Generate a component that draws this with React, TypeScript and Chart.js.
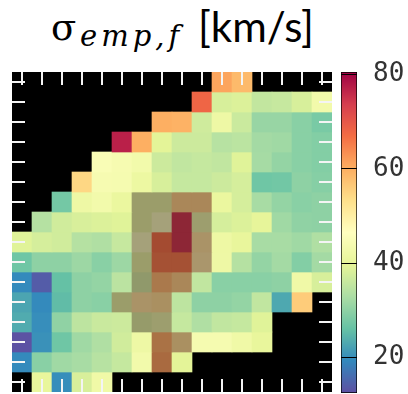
import React, { useEffect, useRef } from "react";
import { Chart, registerables } from "chart.js";

Chart.register(...registerables);

const N = null;

// column / row indices of the 16 x 16 spaxel map
const columnLabels = ["0", "1", "2", "3", "4", "5", "6", "7", "8", "9", "10", "11", "12", "13", "14", "15"];
const rowLabels = ["0", "1", "2", "3", "4", "5", "6", "7", "8", "9", "10", "11", "12", "13", "14", "15"];

// sigma_emp,f [km/s] per row (top to bottom), null = masked (black)
const row00 = [N, N, N, N, N, N, N, N, N, N, 61, 58.5, N, N, N, N];
const row01 = [N, N, N, N, N, N, N, N, N, 68, 38, 38.5, 35.5, 36, 38, 43];
const row02 = [N, N, N, N, N, N, N, 60, 59.5, 37, 42, 36.5, 31, 31, 29.5, 28];
const row03 = [N, N, N, N, N, 77, 60, 39.5, 36.7, 36.7, 34.3, 34.8, 32.2, 31.8, 29.5, 29];
const row04 = [N, N, N, N, 45, 44, 43, 36.7, 35.4, 35.9, 35.4, 39, 32.4, 30.6, 29.5, 29];
const row05 = [N, N, N, 54.5, 44, 43.8, 41.5, 38, 35.9, 35.9, 36.7, 37.7, 27, 27.3, 30, 29.3];
const row06 = [N, N, 27.5, 42, 43, 41, 40, 40, 55, 55, 41, 37.7, 32.6, 30.6, 29.5, 30];
const row07 = [N, 34, 37.2, 38.1, 38.5, 39, 40, 44, 74, 41, 37.7, 38.5, 40, 31.8, 30.2, 30];
const row08 = [39, 37.7, 37.2, 34, 33.5, 36, 44, 66, 74, 52, 41.8, 40.4, 32.6, 32.6, 31.8, 33.5];
const row09 = [27, 30, 30, 31.5, 29.5, 31.5, 40, 65, 65, 51, 42, 34, 30.6, 32.2, 29, 32.2];
const row10 = [19.5, 14, 26, 30, 30.6, 34.7, 38, 58, 55, 35.4, 29.5, 29.5, 29.5, 30, 42.4, 38];
const row11 = [22.7, 19.5, 25.4, 30, 29.5, 40, 52, 53, 35, 30, 30, 30.6, 35.4, 23, 56, N];
const row12 = [23.4, 20, 30.2, 35, 36.3, 36.7, 39, 41, 35.9, 33.5, 35.4, 35.9, 39, N, N, N];
const row13 = [12.8, 20.3, 27, 31.8, 33.5, 37.2, 42, 59.5, 53, 43.8, 43.8, 42.4, 40.4, N, N, N];
const row14 = [19.5, 29.5, 31.8, 32.6, 34.3, 35.9, 43, 61, 39.5, N, N, N, N, N, N, N];
const row15 = [N, 40.4, 20, 38.1, 42.4, N, N, N, N, N, N, N, N, N, N, N];

const sigmaRows: (number | null)[][] = [
  row00, row01, row02, row03, row04, row05, row06, row07,
  row08, row09, row10, row11, row12, row13, row14, row15,
];

// shaded (greyed) spaxels, as [row, column]
const shadedCells: [number, number][] = [
  [6, 6], [6, 7], [6, 8], [6, 9],
  [7, 6], [7, 7], [7, 8], [7, 9],
  [8, 6], [8, 7], [8, 8], [8, 9],
  [9, 6], [9, 7], [9, 8], [9, 9],
  [10, 6], [10, 7], [10, 8],
  [11, 5], [11, 6], [11, 7],
  [12, 6], [12, 7],
  [13, 7], [13, 8],
  [14, 7],
];

// colour bar
const colorMin = 12.5;
const colorMax = 80.5;
const colorbarTicks = [20, 40, 60, 80];
const spectralR = ["#5e4fa2", "#3288bd", "#66c2a5", "#abdda4", "#e6f598", "#ffffbf", "#fee08b", "#fdae61", "#f46d43", "#d53e4f", "#9e0142"];
const shadeFactor = [0.67, 0.64, 0.69];

function hexRgb(h: string): number[] {
  return [parseInt(h.slice(1, 3), 16), parseInt(h.slice(3, 5), 16), parseInt(h.slice(5, 7), 16)];
}

function cmap(v: number, shaded: boolean): string {
  let t = (v - colorMin) / (colorMax - colorMin);
  t = Math.max(0, Math.min(1, t));
  const pos = t * (spectralR.length - 1);
  const i = Math.min(Math.floor(pos), spectralR.length - 2);
  const f = pos - i;
  const a = hexRgb(spectralR[i]);
  const b = hexRgb(spectralR[i + 1]);
  const c = a.map((x, k) => x + (b[k] - x) * f);
  const out = shaded ? c.map((x, k) => x * shadeFactor[k]) : c;
  return `rgb(${Math.round(out[0])},${Math.round(out[1])},${Math.round(out[2])})`;
}

const isShaded = (r: number, c: number) => shadedCells.some(([rr, cc]) => rr === r && cc === c);

const blackBackground = {
  id: "blackBackground",
  beforeDatasetsDraw(chart: any) {
    const { ctx, chartArea: a } = chart;
    ctx.save();
    ctx.fillStyle = "#000";
    ctx.fillRect(a.left, a.top, a.right - a.left, a.bottom - a.top);
    ctx.restore();
  },
};

const TICK_LEN = 13;
const innerTicks = {
  id: "innerTicks",
  afterDatasetsDraw(chart: any) {
    const { ctx, chartArea: a, scales } = chart;
    const x = scales.x;
    const y = scales.y;
    ctx.save();
    ctx.strokeStyle = "#f4f4f4";
    ctx.lineWidth = 2;
    ctx.beginPath();
    columnLabels.forEach((_, i) => {
      const px = Math.round(x.getPixelForValue(i));
      ctx.moveTo(px, a.top);
      ctx.lineTo(px, a.top + TICK_LEN);
      ctx.moveTo(px, a.bottom);
      ctx.lineTo(px, a.bottom - TICK_LEN);
    });
    rowLabels.forEach((_, r) => {
      const py = Math.round(y.getPixelForValue(r + 0.5));
      ctx.moveTo(a.left, py);
      ctx.lineTo(a.left + TICK_LEN, py);
      ctx.moveTo(a.right, py);
      ctx.lineTo(a.right - TICK_LEN, py);
    });
    ctx.stroke();
    ctx.restore();
  },
};

export default function App() {
  const mapRef = useRef<HTMLCanvasElement>(null);
  const barRef = useRef<HTMLCanvasElement>(null);

  useEffect(() => {
    const mapChart = new Chart(mapRef.current as HTMLCanvasElement, {
      type: "bar",
      data: {
        labels: columnLabels,
        datasets: sigmaRows.map((row, r) => ({
          label: `row ${rowLabels[r]}`,
          data: row.map((v) => (v == null ? null : [r, r + 1])),
          backgroundColor: row.map((v, c) => (v == null ? "#000" : cmap(v, isShaded(r, c)))),
          borderWidth: 0,
          grouped: false,
          categoryPercentage: 1,
          barPercentage: 1,
        })) as any,
      },
      options: {
        animation: false,
        responsive: false,
        maintainAspectRatio: false,
        layout: { padding: 0 },
        plugins: { legend: { display: false }, tooltip: { enabled: false }, title: { display: false } },
        scales: {
          x: { display: false, offset: true },
          y: { display: false, min: 0, max: 16, reverse: true },
        },
      },
      plugins: [blackBackground, innerTicks],
    });

    const barChart = new Chart(barRef.current as HTMLCanvasElement, {
      type: "bar",
      data: {
        labels: ["σ"],
        datasets: [
          {
            label: "colour scale",
            data: [[colorMin, colorMax]] as any,
            backgroundColor: (ctx: any) => {
              const chart = ctx.chart;
              const y = chart.scales.y;
              if (!y || !chart.chartArea) return spectralR[5];
              const g = chart.ctx.createLinearGradient(0, y.getPixelForValue(colorMin), 0, y.getPixelForValue(colorMax));
              spectralR.forEach((c, i) => g.addColorStop(i / (spectralR.length - 1), c));
              return g;
            },
            borderColor: "#000",
            borderWidth: 1,
            borderSkipped: false,
            categoryPercentage: 1,
            barPercentage: 1,
          },
        ],
      },
      options: {
        animation: false,
        responsive: false,
        maintainAspectRatio: false,
        layout: { padding: { top: 20, left: 0, right: 0, bottom: 0 } },
        plugins: { legend: { display: false }, tooltip: { enabled: false }, title: { display: false } },
        scales: {
          x: { display: false },
          y: {
            position: "right",
            min: colorMin,
            max: colorMax,
            afterBuildTicks: (scale: any) => {
              scale.ticks = colorbarTicks.map((v) => ({ value: v }));
            },
            afterFit: (scale: any) => {
              scale.width = 50;
              scale.paddingTop = 0;
              scale.paddingBottom = 0;
            },
            grid: { z: 1, color: "#000", lineWidth: 1, drawTicks: false },
            border: { display: false },
            ticks: {
              padding: 16,
              color: "#333",
              font: { family: "'DejaVu Sans Mono', monospace", size: 26 },
              callback: (v: any) => String(v),
            },
          },
        },
      },
    });

    return () => {
      mapChart.destroy();
      barChart.destroy();
    };
  }, []);

  return (
    <div style={{ position: "absolute", left: 0, top: 0, width: 408, height: 394, background: "#fff", overflow: "hidden" }}>
      <span style={{ position: "absolute", left: 51, top: 9, fontFamily: "'DejaVu Serif', serif", fontSize: 37, lineHeight: 1, whiteSpace: "nowrap", color: "#000" }}>σ</span>
      <span style={{ position: "absolute", left: 80, top: 22, fontFamily: "'DejaVu Serif', serif", fontStyle: "italic", fontSize: 29, letterSpacing: 4, lineHeight: 1, whiteSpace: "nowrap", color: "#000" }}>emp,f</span>
      <span style={{ position: "absolute", left: 198, top: 5, fontFamily: "Lato, sans-serif", fontSize: 42, lineHeight: 1, whiteSpace: "nowrap", color: "#000" }}>[km/s]</span>
      <div style={{ position: "absolute", left: 12, top: 72, width: 320, height: 320 }}>
        <canvas ref={mapRef} width={320} height={320} style={{ display: "block" }} />
      </div>
      <div style={{ position: "absolute", left: 341, top: 52, width: 66, height: 341 }}>
        <canvas ref={barRef} width={66} height={341} style={{ display: "block" }} />
      </div>
    </div>
  );
}
